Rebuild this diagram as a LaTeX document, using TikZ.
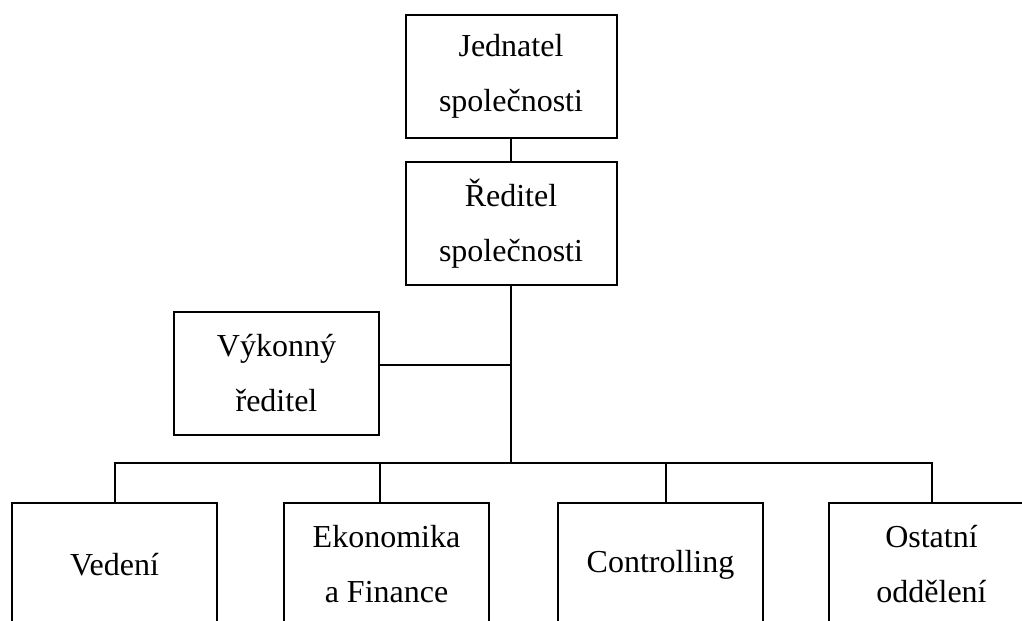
\documentclass[tikz,border=0pt]{standalone}
\usepackage{fontspec}
\setmainfont{Liberation Serif}
\usetikzlibrary{
    positioning,           % Relative positioning
    calc                   % Coordinate calculations
}
\tikzset{
    orgbox/.style={draw, rectangle, line width=0.8pt, align=center,
        inner sep=0pt, outer sep=0pt, minimum width=82pt, minimum height=49.2pt,
        font=\fontsize{12.8}{22}\selectfont},
    topbox/.style={orgbox, minimum width=84.4pt},
    link/.style={line width=0.8pt}
}

\begin{document}
\begin{tikzpicture}[x=0.4pt,y=-0.4pt]
    \clip (0,0) rectangle (1022,621);
    % Management
    \node[topbox] (jednatel) at (511,76.5) {Jednatel\\společnosti};
    \node[topbox, below=9.6pt of jednatel] (reditel) {Ředitel\\společnosti};
    \node[orgbox] (vykonny) at (276.5,373.5) {Výkonný\\ředitel};
    % Departments
    \node[orgbox] (vedeni) at (114.5,564.5) {Vedení};
    \node[orgbox, right=26.8pt of vedeni] (ekonomika) {Ekonomika\\a Finance};
    \node[orgbox, right=27.6pt of ekonomika] (controlling) {Controlling};
    \node[orgbox, right=26.4pt of controlling] (ostatni) {Ostatní\\oddělení};
    \coordinate (bus) at (511,463);
    % Links
    \draw[link] (jednatel) -- (reditel);
    \draw[link] (reditel.south) -- (bus);
    \draw[link] ([yshift=3.4pt]vykonny.east) -- ([yshift=3.4pt]vykonny.east -| bus);
    \draw[link] (vedeni.north) |- (bus) -| (ostatni.north);
    \draw[link] ([xshift=-2.6pt]ekonomika.north) -- ([xshift=-2.6pt]ekonomika.north |- bus);
    \draw[link] ([xshift=2.2pt]controlling.north) -- ([xshift=2.2pt]controlling.north |- bus);
\end{tikzpicture}
\end{document}
